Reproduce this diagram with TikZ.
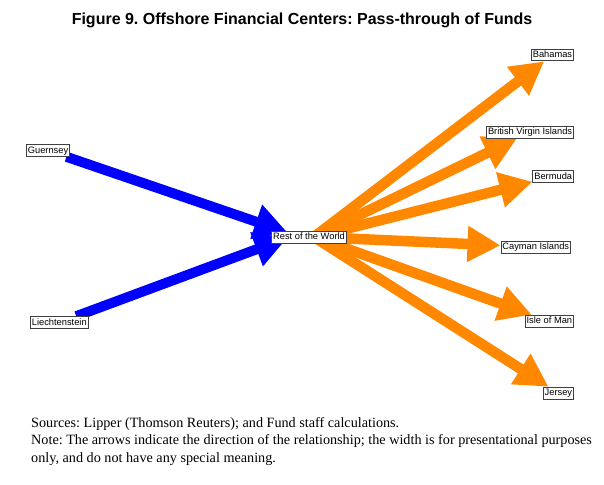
\documentclass[tikz,border=0pt]{standalone}
\usepackage{fontspec}
\setmainfont{Liberation Serif}
\newfontfamily\labfont{Liberation Sans}
\usetikzlibrary{arrows.meta,backgrounds}
\definecolor{oblue}{RGB}{0,0,255}
\definecolor{oorange}{RGB}{255,136,0}
\begin{document}
\begin{tikzpicture}[x=1pt,y=-1pt,
  lab/.style={draw=black!75,line width=0.8pt,fill=white,inner sep=1.5pt,text height=6.9pt,text depth=1.9pt,font=\labfont\fontsize{9.3}{10}\selectfont},
  bluearr/.style={draw=oblue,line width=10pt,-{Triangle[length=33pt,width=34pt]}},
  orarr/.style={draw=oorange,line width=10.5pt,-{Triangle[length=33pt,width=34pt]}},
  note/.style={anchor=base west,inner sep=0pt,font=\fontsize{14.2}{16}\selectfont}]
\useasboundingbox (0,0) rectangle (604,484);
\node[font=\labfont\bfseries\fontsize{16}{18}\selectfont] (title) at (302,20.5) {\frenchspacing Figure 9. Offshore Financial Centers: Pass-through of Funds};
\node[lab,anchor=west] (gue) at (26,150.5) {Guernsey};
\node[lab,anchor=west] (lie) at (30,322.5) {Liechtenstein};
\node[lab] (row) at (309,237) {Rest of the World};
\node[lab,anchor=east] (bah) at (574,55) {Bahamas};
\node[lab,anchor=east] (bvi) at (574,132) {British Virgin Islands};
\node[lab,anchor=east] (ber) at (574,176.5) {Bermuda};
\node[lab,anchor=east] (cay) at (571,247) {Cayman Islands};
\node[lab,anchor=east] (iom) at (574,321) {Isle of Man};
\node[lab,anchor=east] (jer) at (574,393) {Jersey};
\coordinate (rin) at (295,235);
\coordinate (rout) at (314,237);
\begin{scope}[on background layer]
\draw[bluearr,shorten >=8pt] (gue) -- (rin);
\draw[bluearr,shorten >=8pt] (lie) -- (rin);
\draw[orarr] (rout) -- (bah);
\draw[orarr] (rout) -- (bvi);
\draw[orarr] (rout) -- (ber);
\draw[orarr] (rout) -- (cay);
\draw[orarr] (rout) -- (iom);
\draw[orarr] (rout) -- (jer);
\end{scope}
\node[note] (n1) at (31,427) {\frenchspacing Sources: Lipper (Thomson Reuters); and Fund staff calculations.};
\node[note] (n2) at (31,444.5) {\frenchspacing Note: The arrows indicate the direction of the relationship; the width is for presentational purposes};
\node[note] (n3) at (31,462) {\frenchspacing only, and do not have any special meaning.};
\end{tikzpicture}
\end{document}
